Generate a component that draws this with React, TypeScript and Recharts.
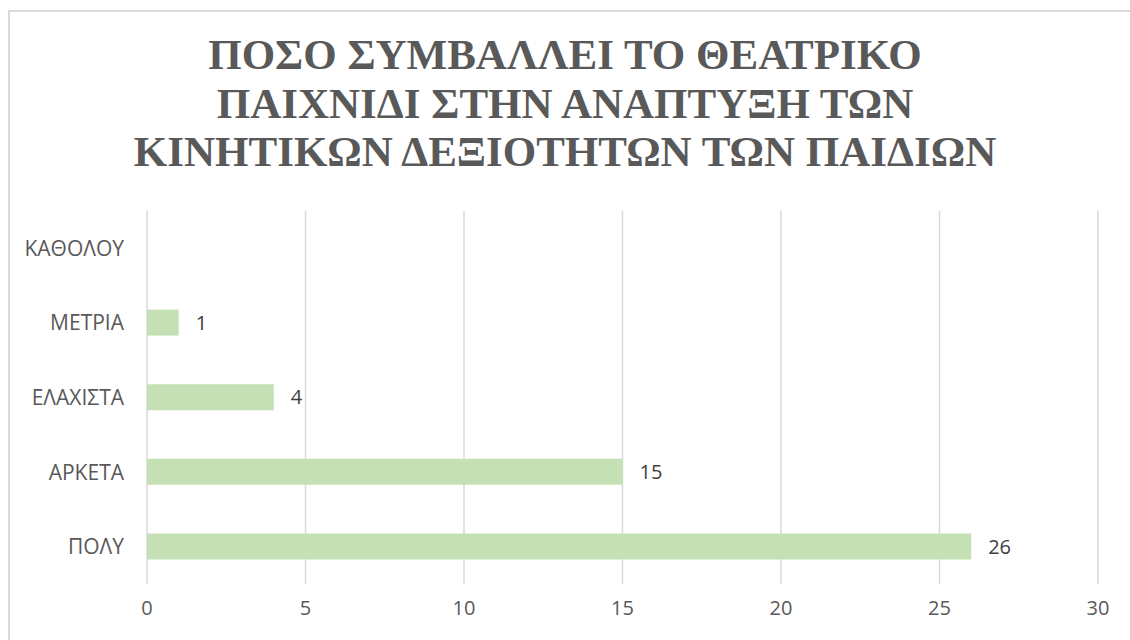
import React from "react";
import { BarChart, Bar, XAxis, YAxis, CartesianGrid, LabelList } from "recharts";

const categories = ["ΚΑΘΟΛΟΥ", "ΜΕΤΡΙΑ", "ΕΛΑΧΙΣΤΑ", "ΑΡΚΕΤΑ", "ΠΟΛΥ"];
const values = [0, 1, 4, 15, 26];
const xTicks = [0, 5, 10, 15, 20, 25, 30];
const titleLines = [
  "ΠΟΣΟ ΣΥΜΒΑΛΛΕΙ ΤΟ ΘΕΑΤΡΙΚΟ",
  "ΠΑΙΧΝΙΔΙ ΣΤΗΝ ΑΝΑΠΤΥΞΗ ΤΩΝ",
  "ΚΙΝΗΤΙΚΩΝ ΔΕΞΙΟΤΗΤΩΝ ΤΩΝ ΠΑΙΔΙΩΝ",
];

const data = categories.map((c, i) => ({ name: c, value: values[i] }));

const font = "'Open Sans', 'Noto Sans', sans-serif";

export default function App() {
  return (
    <div
      style={{
        position: "absolute",
        left: 0,
        top: 0,
        width: 1130,
        height: 640,
        overflow: "hidden",
        background: "#fff",
      }}
    >
      <div
        style={{
          position: "absolute",
          left: 8,
          top: 10,
          width: 1160,
          height: 680,
          border: "2px solid #d9d9d9",
          boxSizing: "border-box",
        }}
      />
      <div
        style={{
          position: "absolute",
          left: 0,
          top: 31,
          width: 1130,
          textAlign: "center",
          fontFamily: "'Liberation Serif', 'DejaVu Serif', serif",
          fontWeight: "bold",
          fontSize: 43,
          lineHeight: "48.5px",
          color: "#595959",
        }}
      >
        {titleLines.map((l) => (
          <div key={l}>{l}</div>
        ))}
      </div>
      <div style={{ position: "absolute", left: 0, top: 0 }}>
        <BarChart
          width={1130}
          height={640}
          data={data}
          layout="vertical"
          margin={{ top: 211, right: 32, bottom: 0, left: 0 }}
        >
          <CartesianGrid
            horizontal={false}
            stroke="#d9d9d9"
            strokeWidth={1.5}
          />
          <XAxis
            type="number"
            domain={[0, 30]}
            ticks={xTicks}
            height={56}
            axisLine={false}
            tickLine={false}
            tickSize={0}
            tickMargin={17}
            tick={{ fill: "#595959", fontSize: 20, fontFamily: font }}
            interval={0}
          />
          <YAxis
            type="category"
            dataKey="name"
            width={147}
            axisLine={false}
            tickLine={false}
            tickSize={0}
            tickMargin={23}
            tick={{ fill: "#595959", fontSize: 21, fontFamily: font }}
            interval={0}
          />
          <Bar dataKey="value" fill="#c5e0b4" barSize={26} isAnimationActive={false}>
            <LabelList
              dataKey="value"
              position="right"
              offset={17}
              fill="#404040"
              fontSize={20}
              fontFamily={font}
              formatter={(v: number) => (v === 0 ? "" : v)}
            />
          </Bar>
        </BarChart>
      </div>
    </div>
  );
}
